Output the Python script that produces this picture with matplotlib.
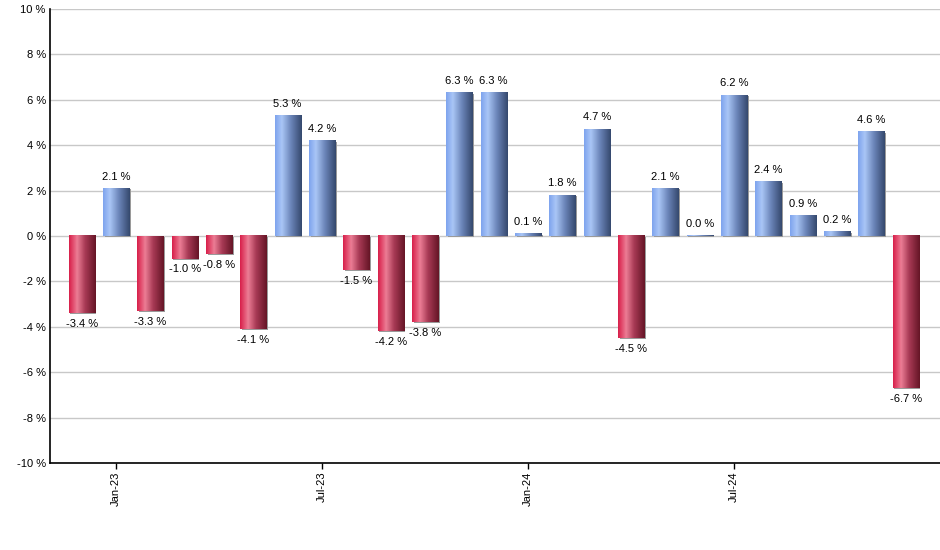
import numpy as np
import matplotlib.pyplot as plt
from matplotlib.colors import LinearSegmentedColormap
from matplotlib.patches import Rectangle

plt.rcParams['font.family'] = ['Liberation Sans', 'DejaVu Sans']

# monthly returns, Dec-22 .. Dec-24
months = ['Dec-22', 'Jan-23', 'Feb-23', 'Mar-23', 'Apr-23', 'May-23', 'Jun-23',
          'Jul-23', 'Aug-23', 'Sep-23', 'Oct-23', 'Nov-23', 'Dec-23', 'Jan-24',
          'Feb-24', 'Mar-24', 'Apr-24', 'May-24', 'Jun-24', 'Jul-24', 'Aug-24',
          'Sep-24', 'Oct-24', 'Nov-24', 'Dec-24']
returns = [-3.4, 2.1, -3.3, -1.0, -0.8, -4.1, 5.3, 4.2, -1.5, -4.2, -3.8, 6.3,
           6.3, 0.1, 1.8, 4.7, -4.5, 2.1, 0.0, 6.2, 2.4, 0.9, 0.2, 4.6, -6.7]
tick_labels = ['Jan-23', 'Jul-23', 'Jan-24', 'Jul-24']

blue_cm = LinearSegmentedColormap.from_list(
    'b', [(0, '#7ea4ee'), (0.25, '#aac6f6'), (0.6, '#6a84b8'), (1, '#35496e')])
red_cm = LinearSegmentedColormap.from_list(
    'r', [(0, '#d8204a'), (0.3, '#ec7d95'), (0.6, '#a83a55'), (1, '#651526')])
grad = np.linspace(0, 1, 64).reshape(1, -1)

fig = plt.figure(figsize=(9.4, 5.5), dpi=100)
ax = fig.add_axes([50 / 940, (550 - 463) / 550, (940 - 50) / 940, (463 - 9) / 550])

x = np.arange(len(returns))
w = 0.76
for xi, v in zip(x, returns):
    if v == 0:
        v = 0.04
    y0, y1 = min(0, v), max(0, v)
    ax.add_patch(Rectangle((xi - w / 2 + 0.05, y0 - 0.05), w, y1 - y0,
                           color='#9a9a9a', zorder=2, lw=0))
    ax.imshow(grad, cmap=blue_cm if v > 0 else red_cm, aspect='auto',
              extent=(xi - w / 2, xi + w / 2, y0, y1), zorder=3,
              interpolation='bilinear')

for xi, v in zip(x, returns):
    if v >= 0:
        ax.text(xi, v + 0.3, f'{v:.1f} %', ha='center', va='bottom', fontsize=8)
    else:
        ax.text(xi, v - 0.25, f'{v:.1f} %', ha='center', va='top', fontsize=8)

ax.set_xlim(-0.92, 25.0)
ax.set_ylim(-10, 10)
ax.set_yticks(range(-10, 11, 2))
ax.set_yticklabels([f'{t} %' for t in range(-10, 11, 2)], fontsize=8)
ax.yaxis.grid(True, color='#c8c8c8', lw=1)
ax.set_axisbelow(True)
ax.tick_params(axis='y', length=0, pad=3)

ax.set_xticks([months.index(t) for t in tick_labels])
ax.set_xticklabels(tick_labels, rotation=90, fontsize=8)
ax.tick_params(axis='x', length=4, width=1, pad=2)

for s in ['top', 'right']:
    ax.spines[s].set_visible(False)
ax.spines['left'].set_linewidth(1.2)
ax.spines['bottom'].set_linewidth(1.2)

fig.savefig('out.png', dpi=100)
